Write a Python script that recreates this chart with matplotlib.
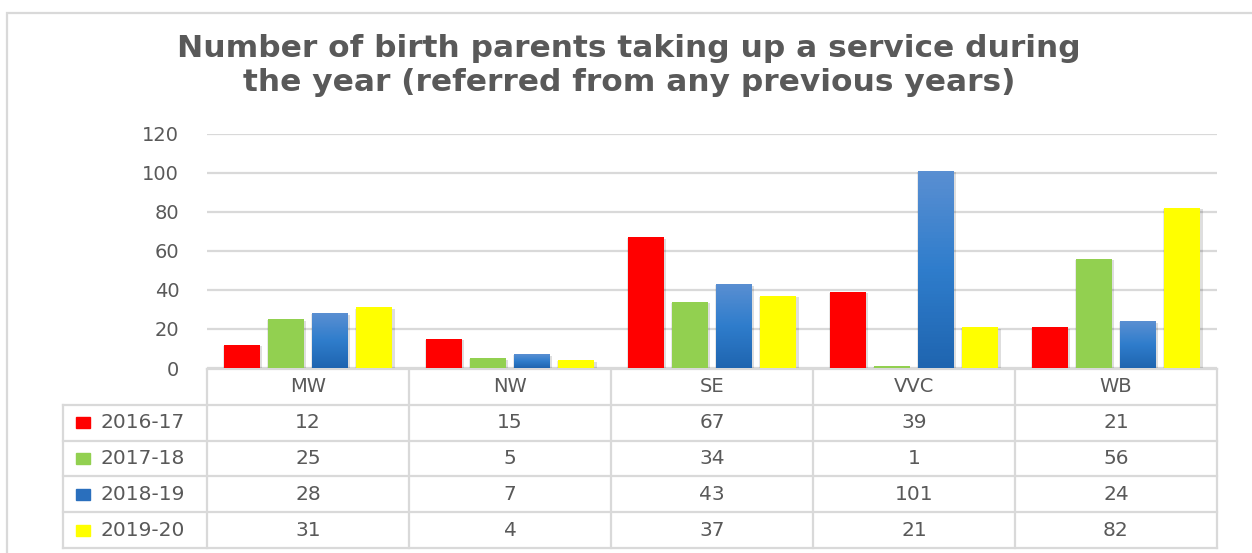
import matplotlib.pyplot as plt
import matplotlib.patheffects as pe
from matplotlib.patches import Rectangle
import numpy as np

# ---- data
regions = ["MW", "NW", "SE", "VVC", "WB"]
years = ["2016-17", "2017-18", "2018-19", "2019-20"]
y2016_17 = [12, 15, 67, 39, 21]
y2017_18 = [25, 5, 34, 1, 56]
y2018_19 = [28, 7, 43, 101, 24]
y2019_20 = [31, 4, 37, 21, 82]
series = [y2016_17, y2017_18, y2018_19, y2019_20]
yticks = [0, 20, 40, 60, 80, 100, 120]

colors = ["#ff0000", "#92d050", "#2e75c2", "#ffff00"]
TXT = "#595959"
GRID = "#d9d9d9"
W, H = 1252, 553

plt.rcParams["font.family"] = ["DejaVu Sans"]

fig = plt.figure(figsize=(W / 100, H / 100), dpi=100)


def fbox(x0, y0, x1, y1):
    # pixel box (top-left origin) -> figure fraction rect
    return [x0 / W, 1 - y1 / H, (x1 - x0) / W, (y1 - y0) / H]


# outer chart border (runs off the right/bottom of the crop)
fig.patches.append(Rectangle((7 / W, -0.1), 1.2, 1 - 13 / H + 0.1,
                             transform=fig.transFigure, fill=False,
                             edgecolor=GRID, lw=1.6))

# ---- title
fig.text(629 / W, 1 - 34 / H,
         "Number of birth parents taking up a service during\n"
         "the year (referred from any previous years)",
         ha="center", va="top", fontsize=22.5, fontweight="bold",
         color=TXT, linespacing=1.2)

# ---- bars
ax = fig.add_axes(fbox(207, 133.5, 1217, 368))
x = np.arange(len(regions))
step, bw = 0.218, 0.178
shadow = [pe.SimplePatchShadow(offset=(1.8, -1.2), shadow_rgbFace="k", alpha=0.13),
          pe.SimplePatchShadow(offset=(-1.0, -0.8), shadow_rgbFace="k", alpha=0.09),
          pe.Normal()]
for i, vals in enumerate(series):
    bars = ax.bar(x + (i - 1.5) * step, vals, width=bw, color=colors[i],
                  zorder=3, path_effects=shadow)
    if i == 2:
        # blue series has a vertical gradient fill
        grad = np.linspace(1, 0, 64).reshape(-1, 1)
        cmap = plt.matplotlib.colors.LinearSegmentedColormap.from_list(
            "bl", ["#1f65b0", "#2f7dcc", "#5a8fd2"])
        for b in bars:
            im = ax.imshow(grad, cmap=cmap, aspect="auto", zorder=4,
                           extent=(b.get_x(), b.get_x() + b.get_width(), 0, b.get_height()))
            im.set_clip_path(b)

ax.set_xlim(-0.5, len(regions) - 0.5)
ax.set_ylim(0, 120)
ax.set_yticks(yticks)
ax.set_yticklabels([str(t) for t in yticks])
ax.set_xticks([])
ax.tick_params(axis="y", length=0, pad=20, labelsize=14, labelcolor=TXT)
ax.grid(axis="y", color=GRID, lw=1.6, zorder=0)
for s in ax.spines.values():
    s.set_visible(False)

# ---- data table (pixel coordinates)
tx0, tc0, tx1 = 63, 207, 1217
ty0, ty1 = 369, 548
nrows = len(years) + 1
rh = (ty1 - ty0) / nrows
cw = (tx1 - tc0) / len(regions)
tax = fig.add_axes(fbox(0, 0, W, H), zorder=-1)
tax.set_xlim(0, W)
tax.set_ylim(H, 0)
tax.axis("off")
lk = dict(color=GRID, lw=1.6)
tax.plot([tc0, tx1], [ty0, ty0], **lk)
for r in range(1, nrows + 1):
    tax.plot([tx0, tx1], [ty0 + r * rh] * 2, **lk)
tax.plot([tx0, tx0], [ty0 + rh, ty1], **lk)
for c in range(len(regions) + 1):
    tax.plot([tc0 + c * cw] * 2, [ty0, ty1], **lk)

for c, name in enumerate(regions):
    tax.text(tc0 + (c + 0.5) * cw, ty0 + 0.5 * rh, name, ha="center",
             va="center", fontsize=14, color=TXT)
for r, (yr, vals) in enumerate(zip(years, series)):
    yc = ty0 + (r + 1.5) * rh
    tax.add_patch(Rectangle((76, yc - 5.5), 14, 11, color=colors[r] if r != 2 else "#2a6fbd"))
    tax.text(101, yc, yr, ha="left", va="center", fontsize=14.5, color=TXT)
    for c, v in enumerate(vals):
        tax.text(tc0 + (c + 0.5) * cw, yc, str(v), ha="center", va="center",
                 fontsize=14.5, color=TXT)

fig.savefig("out.png", dpi=100)
